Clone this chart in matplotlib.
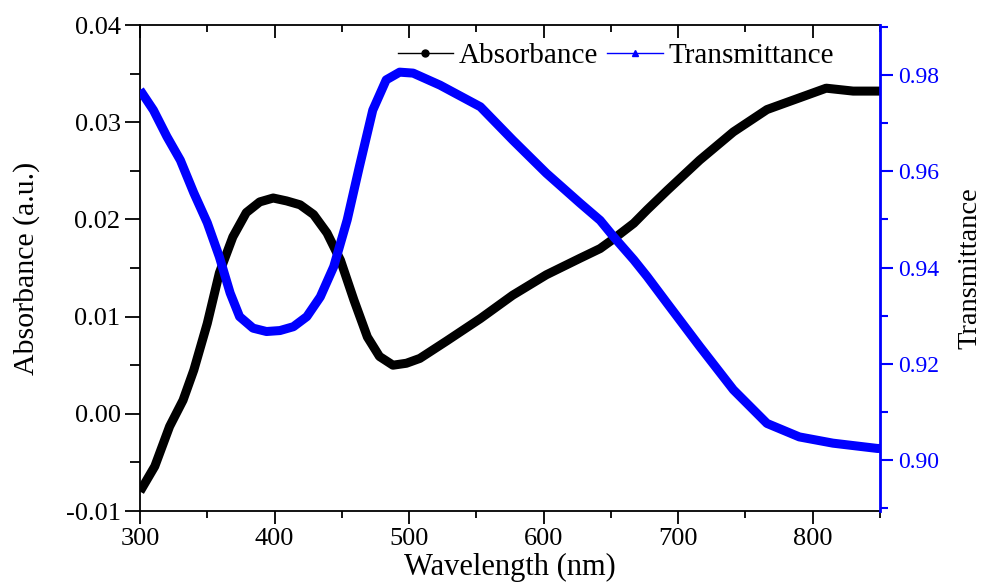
import matplotlib
matplotlib.use("Agg")
import matplotlib.pyplot as plt
from matplotlib.lines import Line2D
from matplotlib.ticker import MultipleLocator

# Absorbance curve
wl_abs = [300, 311, 322, 332, 340, 350, 359, 369, 379, 389, 399, 409, 419, 429, 439,
          449, 459, 469, 478, 488, 498, 508, 528, 553, 577, 602, 627, 642, 652, 667,
          677, 692, 716, 741, 766, 790, 810, 830, 850]
absorbance = [-0.0080, -0.0054, -0.0013, 0.0014, 0.0045, 0.0093, 0.0145, 0.0182, 0.0207, 0.0218,
              0.0222, 0.0219, 0.0215, 0.0205, 0.0186, 0.0158, 0.0117, 0.0079, 0.0059, 0.0050,
              0.0052, 0.0057, 0.0075, 0.0098, 0.0122, 0.0143, 0.0160, 0.0170, 0.0180, 0.0196,
              0.0210, 0.0230, 0.0261, 0.0290, 0.0313, 0.0325, 0.0335, 0.0332, 0.0332]

# Transmittance curve
wl_trans = [300, 310, 320, 330, 340, 350, 359, 367, 374, 384, 394, 404, 414, 424, 434,
            444, 454, 463, 473, 483, 493, 503, 523, 553, 577, 602, 627, 642, 652, 667,
            677, 692, 716, 741, 766, 790, 815, 848, 850]
transmittance = [0.9769, 0.9727, 0.9672, 0.9623, 0.9555, 0.9493, 0.9422, 0.9347, 0.9298, 0.9274,
                 0.9267, 0.9269, 0.9277, 0.9298, 0.9339, 0.9402, 0.9499, 0.9609, 0.9727, 0.9790,
                 0.9806, 0.9804, 0.9779, 0.9734, 0.9665, 0.9596, 0.9534, 0.9498, 0.9464, 0.9416,
                 0.9381, 0.9325, 0.9236, 0.9146, 0.9076, 0.9048, 0.9035, 0.9024, 0.9024]

left_ticks = [-0.01, 0.0, 0.01, 0.02, 0.03, 0.04]
left_labels = ['-0.01', '0.00', '0.01', '0.02', '0.03', '0.04']
right_ticks = [0.90, 0.92, 0.94, 0.96, 0.98]
right_labels = ['0.90', '0.92', '0.94', '0.96', '0.98']

plt.rcParams['font.family'] = ['Liberation Serif', 'DejaVu Serif']
blue = '#0000ff'

fig = plt.figure(figsize=(9.82, 5.83), dpi=100)
ax = fig.add_axes([140/982, 1 - 511/583, 740/982, 486/583])
ax2 = ax.twinx()

ax.plot(wl_abs, absorbance, color='black', lw=6.5, solid_joinstyle='round', solid_capstyle='butt')
ax2.plot(wl_trans, transmittance, color=blue, lw=6.5, solid_joinstyle='round', solid_capstyle='butt')

ax.set_xlim(300, 850)
ax.set_ylim(-0.01, 0.04)
ax2.set_ylim(0.8894, 0.9904)

ax.xaxis.set_major_locator(MultipleLocator(100))
ax.xaxis.set_minor_locator(MultipleLocator(50))
ax.set_yticks(left_ticks)
ax.set_yticklabels(left_labels)
ax.yaxis.set_minor_locator(MultipleLocator(0.005))
ax2.set_yticks(right_ticks)
ax2.set_yticklabels(right_labels)
ax2.yaxis.set_minor_locator(MultipleLocator(0.01))

ax.tick_params(axis='x', which='both', direction='out', top=True, labelsize=19, pad=3)
ax.tick_params(axis='x', which='major', length=9, width=1.3)
ax.tick_params(axis='x', which='minor', length=5, width=1.3)
ax.tick_params(axis='y', which='both', direction='out', labelsize=19, right=False, pad=3)
ax.tick_params(axis='y', which='major', length=11, width=1.3)
ax.tick_params(axis='y', which='minor', length=7, width=1.3)
ax2.tick_params(axis='y', which='both', direction='out', colors=blue, labelsize=17, pad=4)
ax2.tick_params(axis='y', which='major', length=9, width=1.5)
ax2.tick_params(axis='y', which='minor', length=6, width=1.5)

# top ticks point inward
for t in ax.xaxis.get_major_ticks() + ax.xaxis.get_minor_ticks():
    t.tick2line.set_marker(3)

for s in ['left', 'bottom', 'top']:
    ax.spines[s].set_linewidth(1.3)
ax.spines['right'].set_visible(False)
ax2.spines['right'].set_color(blue)
ax2.spines['right'].set_linewidth(2)
for s in ['left', 'bottom', 'top']:
    ax2.spines[s].set_visible(False)

ax.set_xlabel('Wavelength (nm)', fontsize=22, labelpad=2)
ax.set_ylabel('Absorbance (a.u.)', fontsize=21.5, va='center')
ax.yaxis.set_label_coords((27 - 140) / 740, 0.5)
ax2.set_ylabel('Transmittance', fontsize=20.5, va='center')
ax2.yaxis.set_label_coords((970 - 140) / 740, 0.5)

handles = [Line2D([], [], color='black', lw=1, marker='o', markersize=5),
           Line2D([], [], color=blue, lw=1, marker='^', markersize=5)]
ax.legend(handles, ['Absorbance', 'Transmittance'], loc='upper center',
          bbox_to_anchor=(0.643, 1.0), ncol=2, frameon=False, fontsize=21,
          handlelength=1.9, handletextpad=0.2, columnspacing=0.3, borderaxespad=0.2)

fig.savefig('out.png', dpi=100)
